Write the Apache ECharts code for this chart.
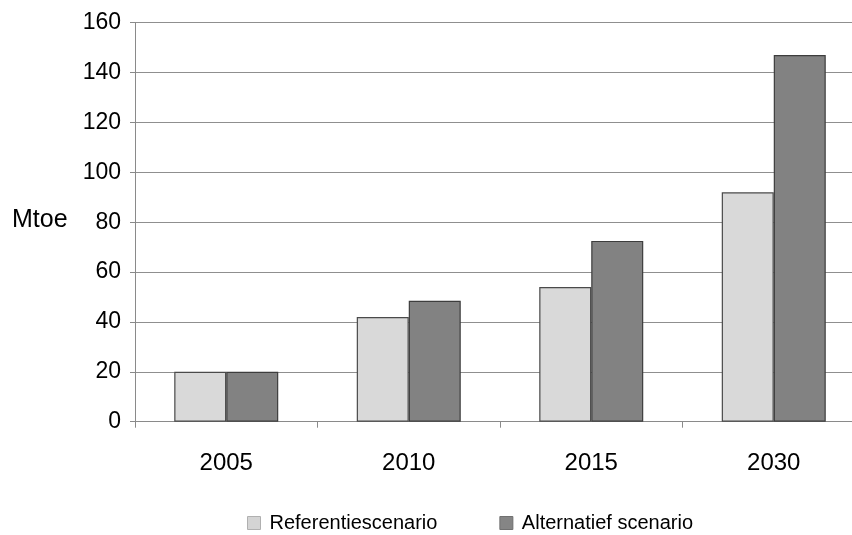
<!DOCTYPE html>
<html>
<head>
<meta charset="utf-8">
<script src="https://cdn.jsdelivr.net/npm/echarts@6/dist/echarts.min.js"></script>
<style>
  html, body { margin: 0; padding: 0; background: #fff; }
  #chart { width: 852px; height: 535px; }
</style>
</head>
<body>
<div id="chart"></div>
<script>
// Energy demand (Mtoe) per year under two scenarios
const years = ['2005', '2010', '2015', '2030'];
const referentie = [20, 42, 54, 92];
const alternatief = [20, 48.5, 72.5, 147];
const yTicks = { min: 0, max: 160, step: 20 };

const font = '"Liberation Sans", Arial, Helvetica, sans-serif';
const chart = echarts.init(document.getElementById('chart'));

chart.setOption({
  animation: false,
  backgroundColor: '#ffffff',
  // plot runs slightly past the right edge of the canvas
  grid: { left: 135, width: 730, top: 22.7, bottom: 113.3, outerBoundsMode: 'none', containLabel: false },
  xAxis: {
    type: 'category',
    data: years,
    boundaryGap: true,
    axisLine: { lineStyle: { color: '#8a8a8a', width: 1 } },
    axisTick: { show: true, length: 6, lineStyle: { color: '#8a8a8a' } },
    axisLabel: { margin: 30, fontSize: 24, color: '#000', fontFamily: font }
  },
  yAxis: {
    type: 'value',
    min: yTicks.min,
    max: yTicks.max,
    interval: yTicks.step,
    axisLine: { show: true, lineStyle: { color: '#8a8a8a', width: 1 } },
    axisTick: { show: true, length: 5, lineStyle: { color: '#8a8a8a' } },
    axisLabel: { margin: 14, fontSize: 23, color: '#000', fontFamily: font },
    splitLine: { show: true, lineStyle: { color: '#8f8f8f', width: 1.2 } }
  },
  legend: {
    left: 247,
    top: 513,
    padding: 0,
    itemWidth: 13,
    itemHeight: 13,
    itemGap: 62,
    icon: 'rect',
    textStyle: { fontSize: 20, color: '#000', fontFamily: font, padding: [0, 0, 0, 4] },
    data: [
      { name: 'Referentiescenario', itemStyle: { color: '#d4d4d4', borderColor: '#b0b0b0', borderWidth: 1 } },
      { name: 'Alternatief scenario', itemStyle: { color: '#858585', borderColor: '#707070', borderWidth: 1 } }
    ]
  },
  graphic: [{
    type: 'text',
    left: 12,
    top: 208,
    style: { text: 'Mtoe', font: '25px ' + font, fill: '#000' }
  }],
  series: [
    {
      name: 'Referentiescenario',
      type: 'bar',
      data: referentie,
      barWidth: 52,
      barGap: '0%',
      itemStyle: { color: '#d9d9d9', borderColor: '#4a4a4a', borderWidth: 1.2 }
    },
    {
      name: 'Alternatief scenario',
      type: 'bar',
      data: alternatief,
      barWidth: 52,
      barGap: '0%',
      itemStyle: { color: '#828282', borderColor: '#3d3d3d', borderWidth: 1.2 }
    }
  ]
});
</script>
</body>
</html>
